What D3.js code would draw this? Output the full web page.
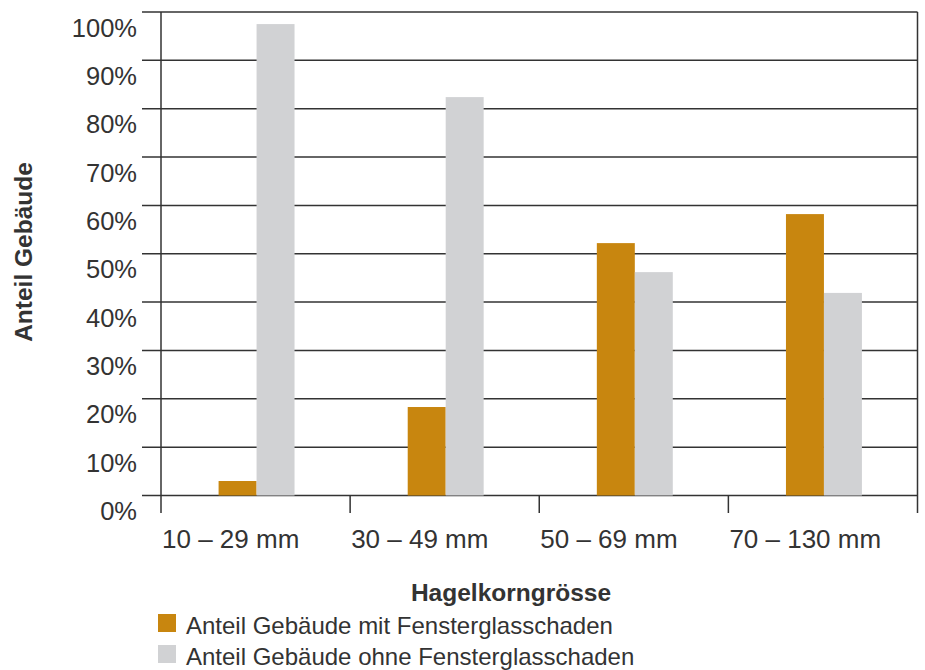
<!DOCTYPE html>
<html>
<head>
<meta charset="utf-8">
<script src="https://cdn.jsdelivr.net/npm/d3@7"></script>
<style>
  body { margin: 0; background: #fff; }
  text { font-family: "Liberation Sans", Arial, Helvetica, sans-serif; fill: #333; }
</style>
</head>
<body>
<div id="chart"></div>
<script>
// data
const categories = ["10 – 29 mm", "30 – 49 mm", "50 – 69 mm", "70 – 130 mm"];
const series = ["mit", "ohne"];
const seriesLabels = [
  "Anteil Gebäude mit Fensterglasschaden",
  "Anteil Gebäude ohne Fensterglasschaden",
];
const mitValues = [3, 18.3, 52.2, 58.2];
const ohneValues = [97.5, 82.4, 46.2, 41.9];
const yTicks = [0, 10, 20, 30, 40, 50, 60, 70, 80, 90, 100];

const colors = { mit: "#c8860f", ohne: "#d1d2d4" };

const width = 925,
  height = 670;

const svg = d3
  .select("#chart")
  .append("svg")
  .attr("width", width)
  .attr("height", height);

const x = d3.scaleBand().domain(categories).range([161, 917.5]).padding(0);
const xInner = d3
  .scaleBand()
  .domain(series)
  .range([0, x.bandwidth()])
  .paddingInner(0)
  .paddingOuter(1.49);
const y = d3.scaleLinear().domain([0, 100]).range([495.5, 12]);

const rows = categories.map((c, i) => ({
  cat: c,
  mit: mitValues[i],
  ohne: ohneValues[i],
}));

//gridlines, extending left of the axis
svg
  .append("g")
  .selectAll("line")
  .data(yTicks)
  .enter()
  .append("line")
  .attr("x1", 142)
  .attr("x2", x.range()[1])
  .attr("y1", (d) => y(d))
  .attr("y2", (d) => y(d))
  .attr("stroke", "#333")
  .attr("stroke-width", 1.5);

//y labels sit a bit below their line
svg
  .append("g")
  .selectAll("text")
  .data(yTicks)
  .enter()
  .append("text")
  .attr("x", 137)
  .attr("y", (d) => y(d) + 24.5)
  .attr("text-anchor", "end")
  .style("font-size", "25.5px")
  .text((d) => d + "%");

//bars
const groups = svg
  .append("g")
  .selectAll("g")
  .data(rows)
  .enter()
  .append("g")
  .attr("transform", (d) => `translate(${x(d.cat) + 1},0)`);

groups
  .selectAll("rect")
  .data((d) => series.map((s) => ({ key: s, value: d[s] })))
  .enter()
  .append("rect")
  .attr("x", (d) => xInner(d.key))
  .attr("width", xInner.bandwidth())
  .attr("y", (d) => y(d.value))
  .attr("height", (d) => y(0) - y(d.value))
  .attr("fill", (d) => colors[d.key]);

//axis frame: left, right and the dividers between categories
const dividers = categories.map((c) => x(c)).concat([x.range()[1]]);

svg
  .append("g")
  .selectAll("line")
  .data(dividers)
  .enter()
  .append("line")
  .attr("x1", (d) => d)
  .attr("x2", (d) => d)
  .attr("y1", (d, i) => (i === 0 || i === dividers.length - 1 ? y(100) : y(0)))
  .attr("y2", 513)
  .attr("stroke", "#333")
  .attr("stroke-width", 1.5);

//category labels, left aligned at each divider
svg
  .append("g")
  .selectAll("text")
  .data(categories)
  .enter()
  .append("text")
  .attr("x", (d) => x(d) + 1)
  .attr("y", 548)
  .style("font-size", "26px")
  .text((d) => d);

svg
  .append("text")
  .attr("x", 511)
  .attr("y", 601)
  .attr("text-anchor", "middle")
  .style("font-size", "24.5px")
  .style("font-weight", "bold")
  .text("Hagelkorngrösse");

svg
  .append("text")
  .attr("transform", "translate(32,252) rotate(-90)")
  .attr("text-anchor", "middle")
  .style("font-size", "24.5px")
  .style("font-weight", "bold")
  .text("Anteil Gebäude");

//legend
const legend = svg
  .append("g")
  .selectAll("g")
  .data(series)
  .enter()
  .append("g")
  .attr("transform", (d, i) => `translate(158,${614 + i * 31})`);

legend
  .append("rect")
  .attr("width", 18)
  .attr("height", 18)
  .attr("fill", (d) => colors[d]);

legend
  .append("text")
  .attr("x", 28)
  .attr("y", 20)
  .style("font-size", "24px")
  .text((d, i) => seriesLabels[i]);
</script>
</body>
</html>
